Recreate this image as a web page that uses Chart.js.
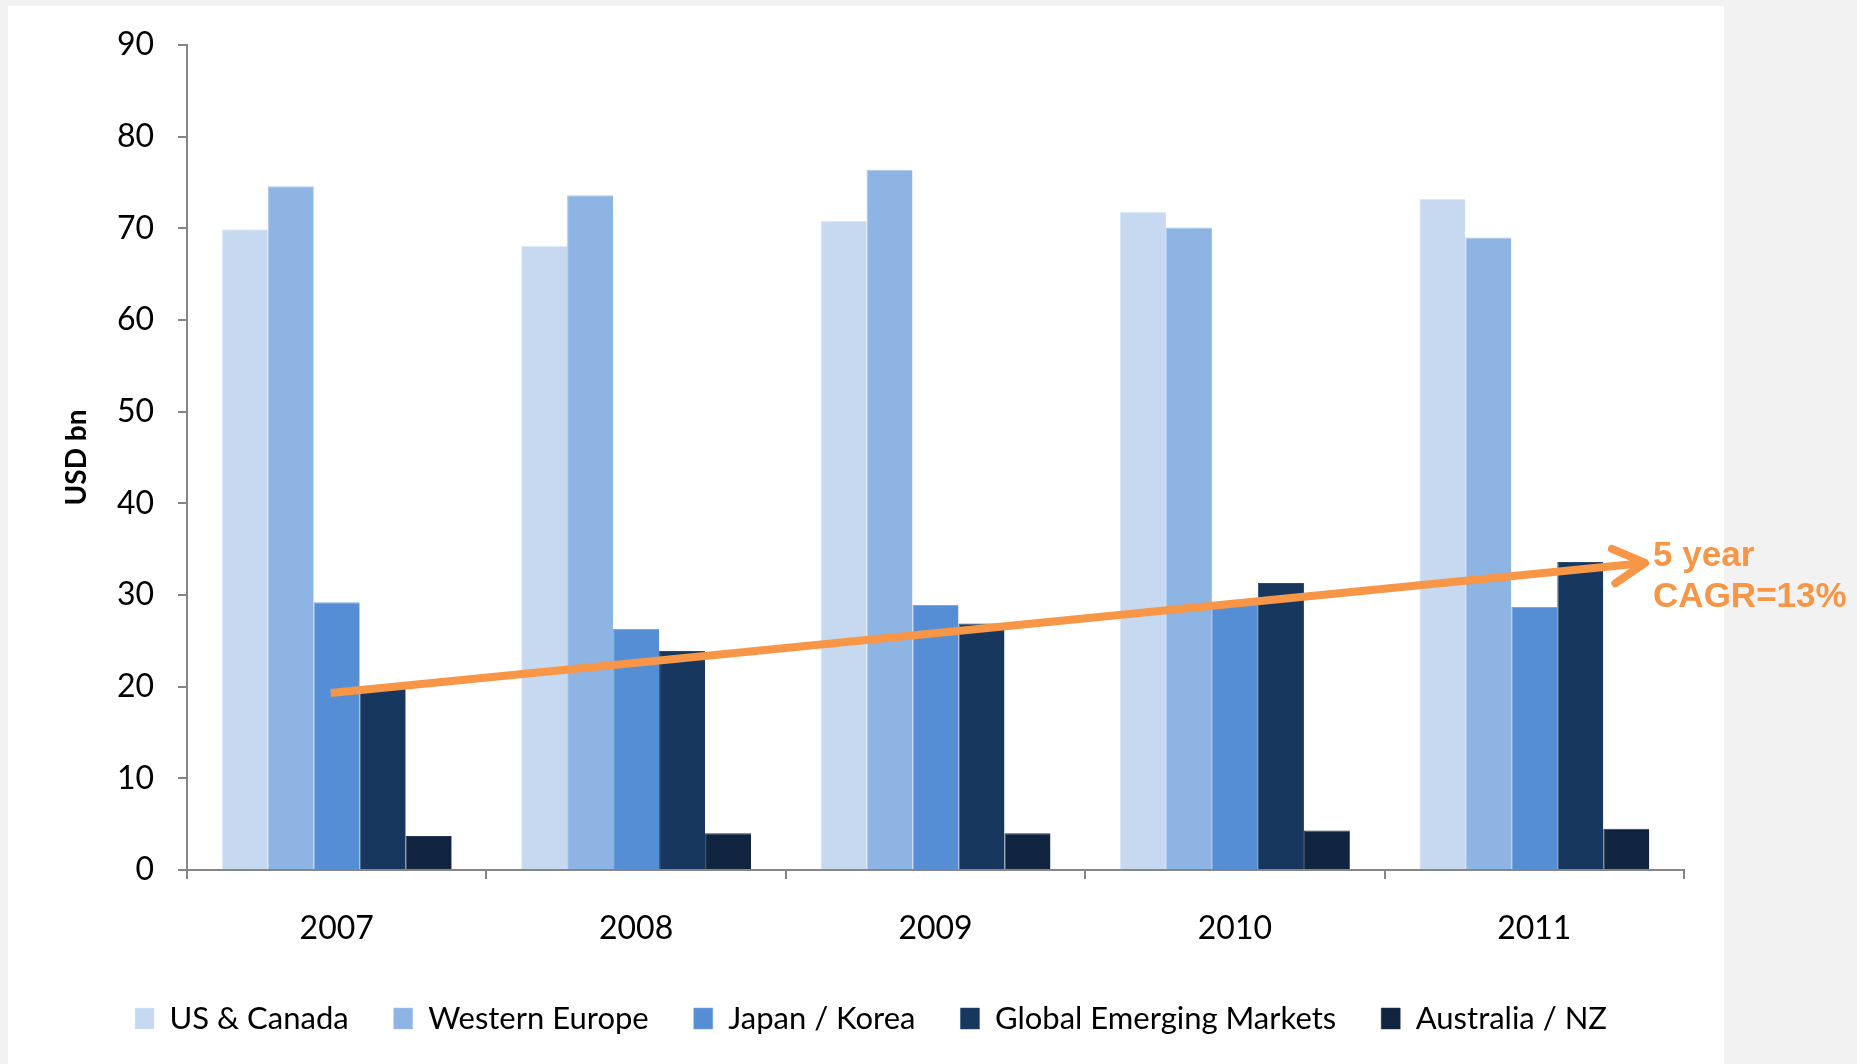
<!DOCTYPE html>
<html>
<head>
<meta charset="utf-8">
<script src="https://cdn.jsdelivr.net/npm/chart.js@4.4.1/dist/chart.umd.min.js"></script>
<style>
  html, body { margin: 0; padding: 0; width: 1857px; height: 1064px; overflow: hidden; background: #f2f2f2; }
  #panel { position: absolute; left: 8px; top: 6px; width: 1716px; height: 1058px; background: #ffffff; }
  #wrap  { position: absolute; left: 0; top: 0; width: 1857px; height: 1044px; }
</style>
</head>
<body>
<div id="panel"></div>
<div id="wrap"><canvas id="chart" width="1857" height="1044"></canvas></div>
<script>
// Market size by region, USD bn
const years           = ['2007', '2008', '2009', '2010', '2011'];
const usCanada        = [69.9, 68.1, 70.8, 71.8, 73.2];
const westernEurope   = [74.6, 73.6, 76.4, 70.1, 69.0];
const japanKorea      = [29.2, 26.3, 28.9, 29.1, 28.7];
const emergingMarkets = [20.0, 23.9, 26.9, 31.3, 33.6];
const australiaNz     = [3.7, 4.0, 4.0, 4.3, 4.5];
const yTicks          = [0, 10, 20, 30, 40, 50, 60, 70, 80, 90];

// Growth arrow over the emerging markets bars: [category index, value]
const cagrFrom  = [-0.02, 19.3];
const cagrTo    = [4.37, 33.5];
const cagrLabel = ['5 year', 'CAGR=13%'];

const AXIS_GREY = '#868686';
const ORANGE    = '#F79646';

Chart.defaults.font.family = 'Lato, "Open Sans", sans-serif';
Chart.defaults.color = '#000000';

function series(label, data, fill, edge) {
    return {
        label, data,
        backgroundColor: fill,
        borderColor: edge,
        borderWidth: { top: 1, left: 1, right: 0, bottom: 0 },
        barPercentage: 1.0,
        categoryPercentage: 0.768,
    };
}

// Open-headed arrow plus its caption, placed in data coordinates.
const cagrArrowPlugin = {
    id: 'cagrArrow',
    afterDatasetsDraw(chart) {
        const { ctx, scales: { x, y } } = chart;
        const x0 = x.getPixelForValue(cagrFrom[0]);
        const y0 = y.getPixelForValue(cagrFrom[1]);
        const x1 = x.getPixelForValue(cagrTo[0]);
        const y1 = y.getPixelForValue(cagrTo[1]);
        const ang  = Math.atan2(y1 - y0, x1 - x0);
        const head = 36;
        const wing = 0.5;

        ctx.save();
        ctx.strokeStyle = ORANGE;
        ctx.lineWidth = 8;
        ctx.lineCap = 'butt';
        ctx.beginPath();
        ctx.moveTo(x0, y0);
        ctx.lineTo(x1 - 3 * Math.cos(ang), y1 - 3 * Math.sin(ang));
        ctx.stroke();

        ctx.lineCap = 'round';
        ctx.lineJoin = 'round';
        ctx.beginPath();
        ctx.moveTo(x1 - head * Math.cos(ang - wing), y1 - head * Math.sin(ang - wing));
        ctx.lineTo(x1, y1);
        ctx.lineTo(x1 - head * Math.cos(ang + wing), y1 - head * Math.sin(ang + wing));
        ctx.stroke();

        ctx.fillStyle = ORANGE;
        ctx.font = 'bold 35px "Liberation Sans", Arial, sans-serif';
        ctx.textAlign = 'left';
        ctx.textBaseline = 'alphabetic';
        ctx.fillText(cagrLabel[0], x1 + 8, y1 + 3);
        ctx.fillText(cagrLabel[1], x1 + 8, y1 + 44);
        ctx.restore();
    },
};

new Chart(document.getElementById('chart'), {
    type: 'bar',
    data: {
        labels: years,
        datasets: [
            series('US & Canada',             usCanada,        '#C6D9F1', '#DCE8F7'),
            series('Western Europe',          westernEurope,   '#8EB4E3', '#A9C6EB'),
            series('Japan / Korea',           japanKorea,      '#558ED5', '#7AA7DF'),
            series('Global Emerging Markets', emergingMarkets, '#17375E', '#2A4B73'),
            series('Australia / NZ',          australiaNz,     '#10243F', '#22344F'),
        ],
    },
    options: {
        responsive: false,
        devicePixelRatio: 1,
        animation: false,
        layout: { padding: { left: 58, right: 173, top: 45, bottom: 0 } },
        plugins: {
            tooltip: { enabled: false },
            legend: {
                position: 'bottom',
                labels: {
                    boxWidth: 19,
                    boxHeight: 21,
                    padding: 45,
                    font: { size: 31 },
                    color: '#000000',
                },
            },
        },
        scales: {
            x: {
                grid: {
                    drawOnChartArea: false,
                    drawTicks: true,
                    tickLength: 9,
                    color: AXIS_GREY,
                    lineWidth: 2,
                },
                border: { color: AXIS_GREY, width: 2 },
                ticks: { font: { size: 32 }, padding: 30, color: '#000000' },
                afterFit: s => { s.height = 88; },
            },
            y: {
                min: 0,
                max: 90,
                afterBuildTicks: s => { s.ticks = yTicks.map(v => ({ value: v })); },
                grid: {
                    drawOnChartArea: false,
                    drawTicks: true,
                    tickLength: 9,
                    color: AXIS_GREY,
                    lineWidth: 2,
                },
                border: { color: AXIS_GREY, width: 2 },
                ticks: { font: { size: 32 }, padding: 24, color: '#000000' },
                title: {
                    display: true,
                    text: 'USD bn',
                    font: { size: 28, weight: 'bold' },
                    color: '#000000',
                    padding: { top: 2, bottom: 0 },
                },
                afterFit: s => { s.width = 129; },
            },
        },
    },
    plugins: [cagrArrowPlugin],
});
</script>
</body>
</html>
